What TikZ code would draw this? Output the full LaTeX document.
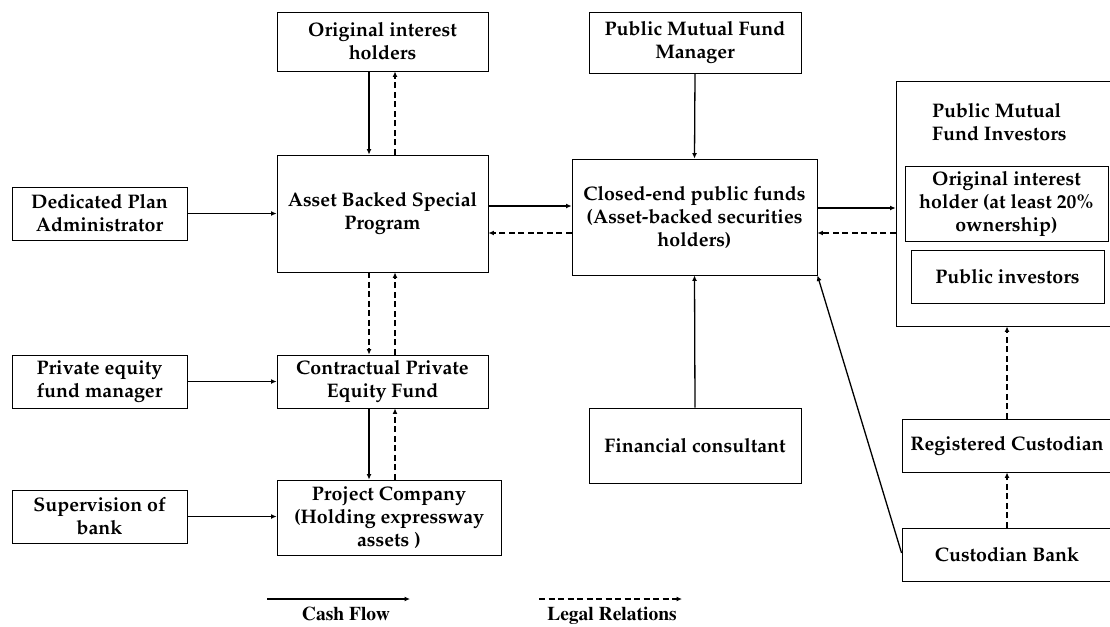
\documentclass[tikz,border=0pt]{standalone}
\usepackage[T1]{fontenc}
\usepackage{mathpazo}
\usetikzlibrary{arrows.meta}

\tikzset{
  box/.style={draw, line width=0.9pt, rectangle, inner sep=0pt, align=center,
    font=\fontsize{19.6}{23}\selectfont\bfseries},
  cash/.style={line width=1.3pt, -{Latex[length=5.5pt,width=5pt]}},
  legal/.style={line width=1.2pt, dash pattern=on 6pt off 3.5pt, -{Latex[length=5.5pt,width=5pt]}},
  legendtext/.style={font=\fontfamily{ptm}\fontsize{19.5}{22}\selectfont\bfseries, inner sep=0pt, anchor=base},
}

\begin{document}
\begin{tikzpicture}[x=1pt, y=-1pt]
\useasboundingbox[fill=white] (0,0) rectangle (1110,626);

% left column
\node[box, minimum width=175pt, minimum height=53pt] (dpa)  at (99.5,213.5) {Dedicated Plan\\Administrator};
\node[box, minimum width=175pt, minimum height=53pt] (pefm) at (99.5,381.5) {Private equity\\fund manager};
\node[box, minimum width=175pt, minimum height=53pt] (sob)  at (99.5,516.5) {Supervision of\\bank};

% second column
\node[box, minimum width=211pt, minimum height=59pt]  (oih)  at (382.5,41.5)  {Original interest\\holders};
\node[box, minimum width=211pt, minimum height=117pt] (absp) at (382.5,213.5) {Asset Backed Special\\Program};
\node[box, minimum width=211pt, minimum height=53pt]  (cpef) at (382.5,381.5) {Contractual Private\\Equity Fund};
\node[box, minimum width=224pt, minimum height=75pt]  (pc)   at (389,517.5)   {Project Company\\(Holding expressway\\assets )};

% third column
\node[box, minimum width=212pt, minimum height=61pt]  (pmfm) at (695,42.5)  {Public Mutual Fund\\Manager};
\node[box, minimum width=245pt, minimum height=116pt] (cef)  at (694.5,217) {Closed-end public funds\\(Asset-backed securities\\holders)};
\node[box, minimum width=212pt, minimum height=75pt]  (fc)   at (695,445.5) {Financial consultant};

% investors group
\node[draw, line width=0.9pt, rectangle, inner sep=0pt, minimum width=215pt, minimum height=245pt] (inv) at (1003.5,203.5) {};
\node[font=\fontsize{19.6}{23}\selectfont\bfseries, align=left, anchor=west, inner sep=0pt] (invtitle) at (932,122) {Public Mutual\\Fund Investors};
\node[box, minimum width=203pt, minimum height=75pt] (oih20)  at (1006.5,203.5) {Original interest\\holder (at least 20\%\\ownership)};
\node[box, minimum width=193pt, minimum height=53pt] (pubinv) at (1007.5,276.5) {Public investors};

% custodians
\node[box, minimum width=210pt, minimum height=53pt] (rc) at (1007,445.5) {Registered Custodian};
\node[box, minimum width=210pt, minimum height=53pt] (cb) at (1007,554.5) {Custodian Bank};

% connectors: left column into second column
\draw[cash] (dpa.east) -- (absp.west |- dpa.east);
\draw[cash] (pefm.east) -- (cpef.west |- pefm.east);
\draw[cash] (sob.east) -- (pc.west |- sob.east);

% vertical chain in second column
\draw[cash]  ([xshift=-13.5pt]oih.south)  -- ([xshift=-13.5pt]absp.north);
\draw[legal] ([xshift=12.5pt]absp.north)  -- ([xshift=12.5pt]oih.south);
\draw[legal] ([xshift=-13.5pt]absp.south) -- ([xshift=-13.5pt]cpef.north);
\draw[legal] ([xshift=12.5pt]cpef.north)  -- ([xshift=12.5pt]absp.south);
\draw[cash]  ([xshift=-13.5pt]cpef.south) -- ([xshift=-13.5pt]cpef.south |- pc.north);
\draw[legal] ([xshift=12.5pt]cpef.south |- pc.north) -- ([xshift=12.5pt]cpef.south);

% second to third column
\draw[cash]  (absp.east |- 0,206) -- (cef.west |- 0,206);
\draw[legal] (cef.west |- 0,233)  -- (absp.east |- 0,233);

% third column
\draw[cash] (pmfm.south) -- (cef.north);
\draw[cash] (fc.north) -- (cef.south);
\draw[cash] (cb.west |- 0,553) -- (cef.south east);

% third column to investors
\draw[cash]  (cef.east |- 0,208) -- (inv.west |- 0,208);
\draw[legal] (inv.west |- 0,233) -- (cef.east |- 0,233);

% custodians up to investors
\draw[legal] (cb.north) -- (rc.south);
\draw[legal] (rc.north) -- (rc.north |- inv.south);

% legend
\coordinate (cfa) at (267,599);
\coordinate (cfb) at (410,599);
\coordinate (lra) at (539,599);
\coordinate (lrb) at (682,599);
\draw[cash] (cfa) -- (cfb);
\draw[legal] (lra) -- (lrb);
\node[legendtext] (cftext) at (346,620.5) {Cash Flow};
\node[legendtext] (lrtext) at (612,620.5) {Legal Relations};
\end{tikzpicture}
\end{document}
